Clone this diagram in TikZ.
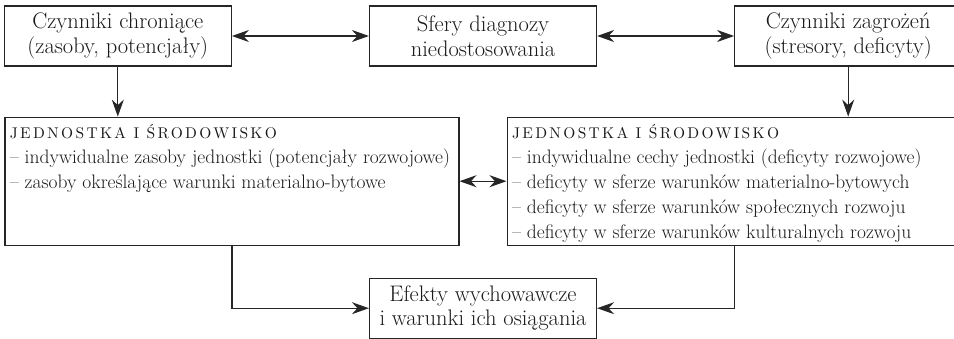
\documentclass[tikz,border=0pt]{standalone}
\usepackage{fontspec}
\usepackage{tikz}
\usetikzlibrary{arrows.meta,positioning}
\newfontfamily\capsfont{lmroman10-regular.otf}[LetterSpace=15]
\newcommand{\spherehead}[1]{{\capsfont\fontsize{15.5}{25}\selectfont #1}}
\newcommand{\spheretext}[1]{\parbox[c][128pt][t]{444pt}{\rule{0pt}{21pt}#1}}

\begin{document}
\begin{tikzpicture}[
      line width=1.2pt, draw=black!85,
      every node/.style={draw, align=center, inner sep=0pt, text=black!90},
      factor/.style={minimum width=227pt, minimum height=60pt, font=\fontsize{22.5}{24.5}\selectfont},
      sphere/.style={minimum width=454pt, minimum height=128pt, font=\fontsize{19.5}{25}\selectfont},
      link/.style={-{Stealth[length=17pt, width=12pt, inset=5.5pt]}},
      both/.style={{Stealth[length=17pt, width=12pt, inset=5.5pt]}-{Stealth[length=17pt, width=12pt, inset=5.5pt]}}
    ]
    \useasboundingbox (0,0) rectangle (954pt,-338pt);
    \clip (0,0) rectangle (954pt,-338pt);

    \node[factor] (sfery) at (483pt,-36pt) {Sfery diagnozy\\niedostosowania};
    \node[factor, left=137pt of sfery] (chron) {Czynniki chroniące\\(zasoby, potencjały)};
    \node[factor, right=137pt of sfery] (zagr) {Czynniki zagrożeń\\(stresory, deficyty)};
    \node[sphere, below=50pt of chron.south east] (zasoby) {\spheretext{\spherehead{JEDNOSTKA I ŚRODOWISKO}\\
      – indywidualne zasoby jednostki (potencjały rozwojowe)\\
      – zasoby określające warunki materialno-bytowe}};
    \node[sphere, below=50pt of zagr.south west] (deficyty) {\spheretext{\spherehead{JEDNOSTKA I ŚRODOWISKO}\\
      – indywidualne cechy jednostki (deficyty rozwojowe)\\
      – deficyty w sferze warunków materialno-bytowych\\
      – deficyty w sferze warunków społecznych rozwoju\\
      – deficyty w sferze warunków kulturalnych rozwoju}};
    \node[factor, below=211pt of sfery] (efekty) {Efekty wychowawcze\\i warunki ich osiągania};

    \draw[both] (chron) -- (sfery);
    \draw[both] (sfery) -- (zagr);
    \draw[link] (chron.south) -- (chron.south |- zasoby.north);
    \draw[link] (zagr.south) -- (zagr.south |- deficyty.north);
    \draw[both] (zasoby) -- (deficyty);
    \draw[link] (zasoby.south) |- (efekty.west);
    \draw[link] (deficyty.south) |- (efekty.east);
  \end{tikzpicture}
\end{document}
